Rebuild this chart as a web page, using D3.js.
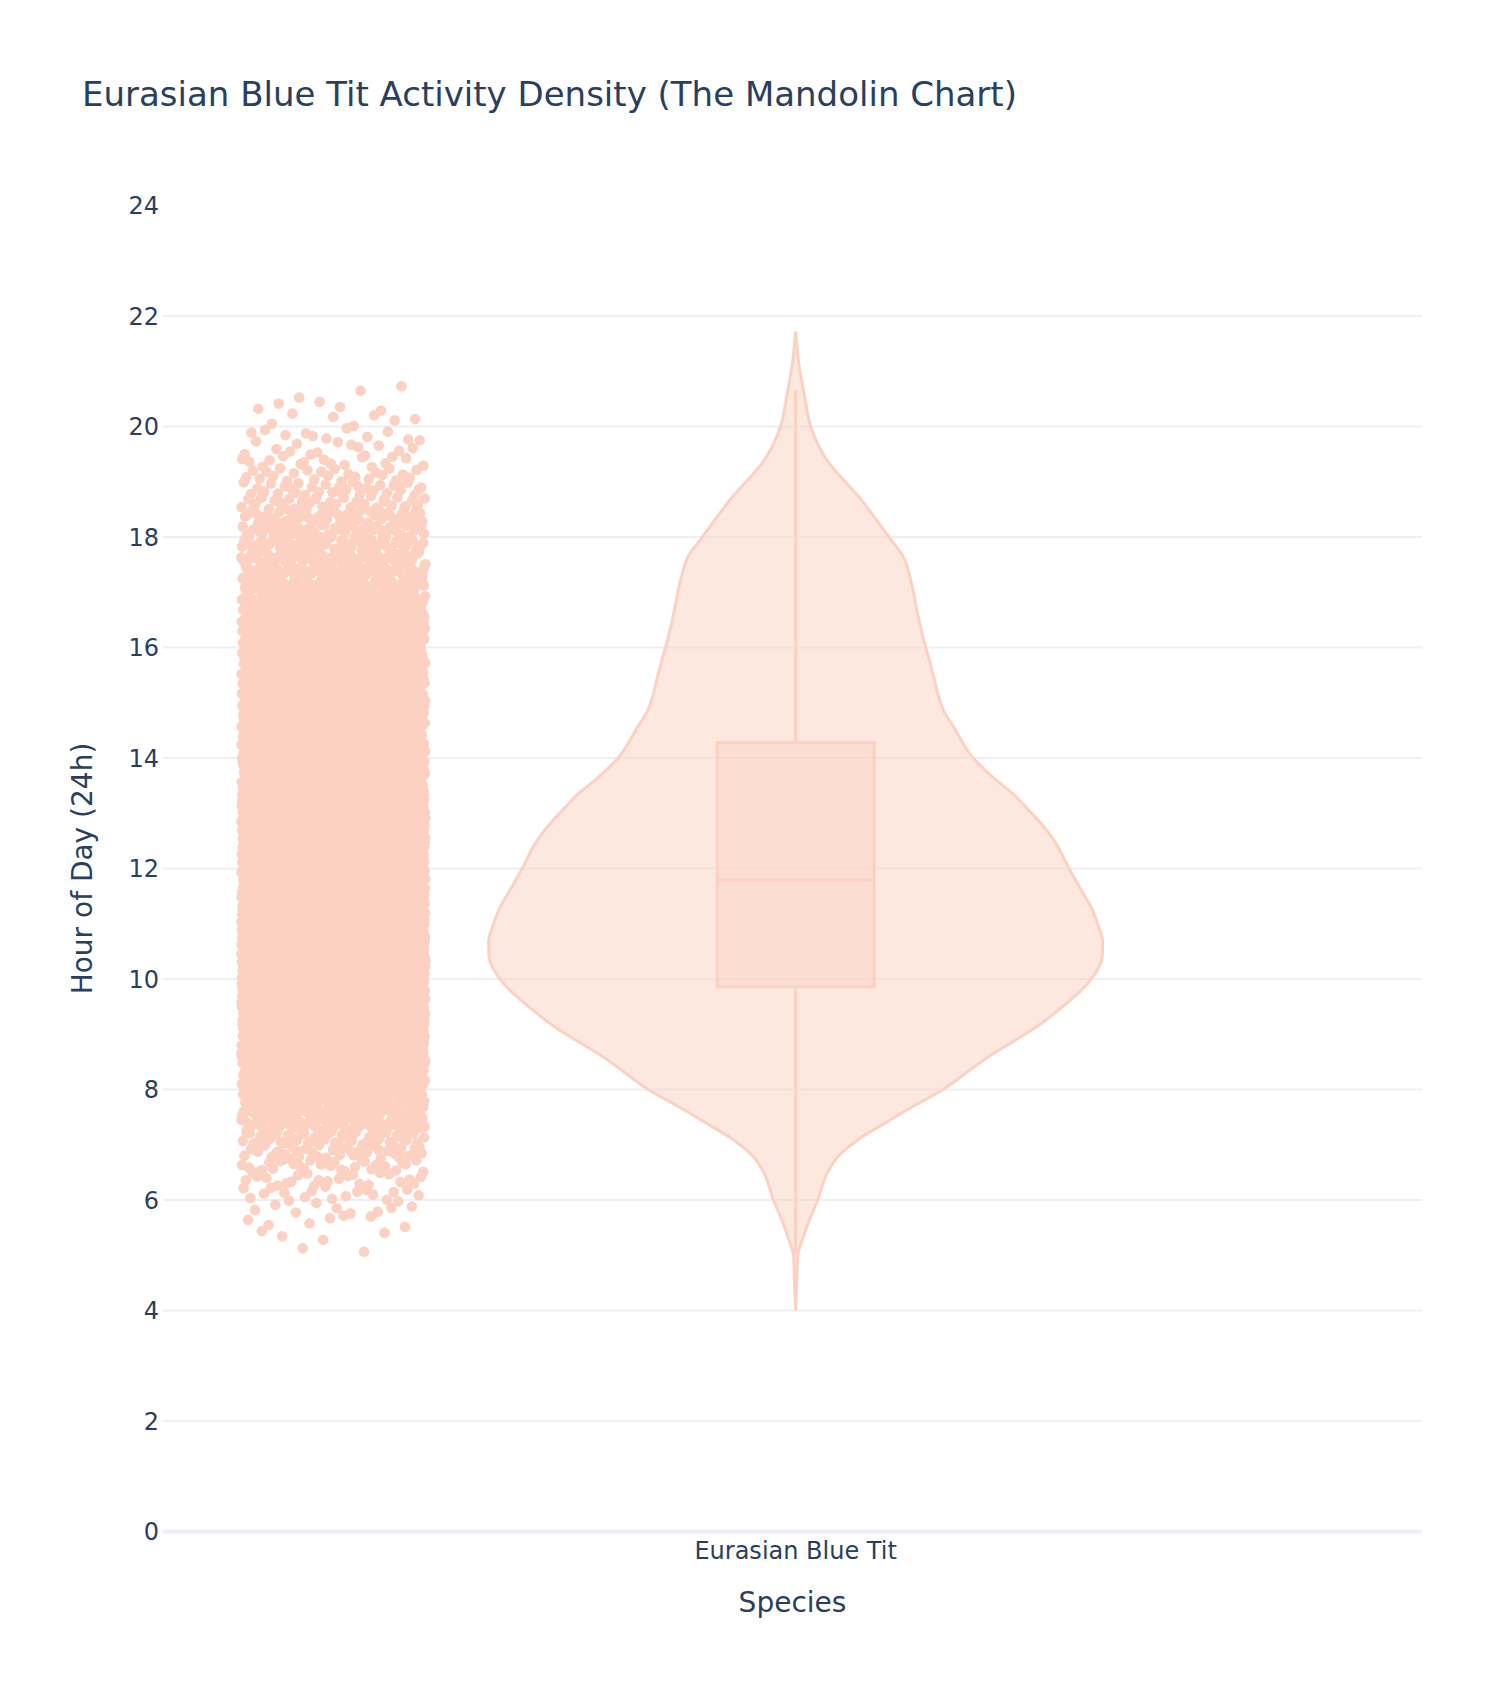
<!DOCTYPE html>
<html>
<head>
<meta charset="utf-8">
<script src="https://cdn.jsdelivr.net/npm/d3@7"></script>
<style>
    body { margin: 0; background: #fff; }
    text { font-family: "DejaVu Sans", verdana, arial, sans-serif; fill: #2a3f5f; }
</style>
</head>
<body>
<div id="chart"></div>
<script>
// category + axis ticks
const species = ['Eurasian Blue Tit'];
const yTicks = [0, 2, 4, 6, 8, 10, 12, 14, 16, 18, 20, 22, 24];

// violin outline: hour -> relative density
const violinHours = [4.0, 4.4, 5.0, 5.3, 5.6, 6.0, 6.5, 6.8, 7.1, 7.4, 7.7, 8.0, 8.3, 8.6, 8.9, 9.2, 9.5, 9.8,
    10.05, 10.4, 10.7, 10.95, 11.25, 11.55, 12.0, 12.45, 12.75, 13.05, 13.35, 13.65, 14.0, 14.55, 14.85,
    15.15, 15.45, 15.75, 16.0, 16.6, 17.2, 17.65, 18.0, 18.45, 18.75, 19.05, 19.35, 19.65, 20.0, 20.55, 21.15, 21.72];
const violinDensity = [0, 0.003, 0.007, 0.023, 0.042, 0.072, 0.104, 0.140, 0.205, 0.293, 0.384, 0.479, 0.554, 0.629,
    0.717, 0.800, 0.868, 0.930, 0.968, 0.997, 0.998, 0.985, 0.965, 0.935, 0.889, 0.847, 0.808, 0.759, 0.707,
    0.642, 0.577, 0.515, 0.482, 0.463, 0.450, 0.436, 0.423, 0.397, 0.375, 0.349, 0.303, 0.244, 0.202,
    0.153, 0.107, 0.075, 0.049, 0.029, 0.010, 0];

// box summary (hours)
const boxStats = {min: 5.04, q1: 9.86, median: 11.79, q3: 14.28, max: 20.66};

// observations per quarter-hour bin, counted roughly from the strip
const binStart = 5.0;
const binSize = 0.25;
const binCounts = [2, 4, 7, 11, 17, 23, 30, 40,
    52, 68, 86, 104, 120, 135, 150, 168,
    183, 198, 213, 225, 234, 240, 240, 237,
    232, 225, 219, 211, 205, 199, 192, 183,
    172, 160, 147, 135, 126, 119, 113, 110,
    111, 110, 108, 105, 102, 99, 96, 93,
    90, 84, 78, 69, 57, 48, 40, 32,
    24, 18, 13, 10, 7, 5, 3];

const traceColor = 'rgb(252,209,193)';

class ViolinChart {

    constructor(_config) {
        this.config = {
            parentElement: _config.parentElement,
            containerWidth: _config.width,
            containerHeight: _config.height
        };
        this.margin = _config.margin;
        this.initVis();
    }

    initVis() {
        let vis = this;
        vis.width = vis.config.containerWidth - vis.margin.left - vis.margin.right;
        vis.height = vis.config.containerHeight - vis.margin.top - vis.margin.bottom;

        vis.yScale = d3.scaleLinear().domain([0, 24]).range([vis.height, 0]);
        // category axis, slot 0 is the species
        vis.xScale = d3.scaleLinear().domain([-0.505, 0.5]).range([0, vis.width]);
        vis.wScale = d3.scaleLinear().domain([0, d3.max(violinDensity)]).range([0, 0.245]);

        vis.svg = d3.select(vis.config.parentElement)
            .append('svg')
            .attr('width', vis.config.containerWidth)
            .attr('height', vis.config.containerHeight);
        vis.svg.append('rect')
            .attr('width', vis.config.containerWidth)
            .attr('height', vis.config.containerHeight)
            .attr('fill', '#fff');

        vis.chart = vis.svg.append('g')
            .attr('transform', `translate(${vis.margin.left}, ${vis.margin.top})`);

        vis.svg.append('text')
            .attr('x', 82)
            .attr('y', 106)
            .attr('font-size', '34px')
            .text('Eurasian Blue Tit Activity Density (The Mandolin Chart)');
    }

    renderVis() {
        let vis = this;

        // grid
        vis.chart.append('g').selectAll('line')
            .data(yTicks.filter(d => d > 0 && d < 24))
            .join('line')
            .attr('x1', 0).attr('x2', vis.width)
            .attr('y1', d => vis.yScale(d)).attr('y2', d => vis.yScale(d))
            .attr('stroke', '#EBF0F8')
            .attr('stroke-width', 2);
        vis.chart.append('line')
            .attr('x1', 0).attr('x2', vis.width)
            .attr('y1', vis.yScale(0)).attr('y2', vis.yScale(0))
            .attr('stroke', '#EBF0F8')
            .attr('stroke-width', 4);

        // y tick labels
        vis.chart.append('g').selectAll('text')
            .data(yTicks)
            .join('text')
            .attr('x', -4)
            .attr('y', d => vis.yScale(d))
            .attr('dy', '0.36em')
            .attr('text-anchor', 'end')
            .attr('font-size', '24px')
            .text(d => d);

        // x tick label
        vis.chart.append('text')
            .attr('x', vis.xScale(0))
            .attr('y', vis.height + 27)
            .attr('text-anchor', 'middle')
            .attr('font-size', '24px')
            .text(species[0]);

        // axis titles
        vis.svg.append('text')
            .attr('x', vis.margin.left + vis.width / 2)
            .attr('y', 1612)
            .attr('text-anchor', 'middle')
            .attr('font-size', '28px')
            .text('Species');
        vis.svg.append('text')
            .attr('transform', `translate(92, ${vis.margin.top + vis.height / 2}) rotate(-90)`)
            .attr('text-anchor', 'middle')
            .attr('font-size', '28px')
            .text('Hour of Day (24h)');

        // violin body
        const violinData = violinHours.map((h, i) => ({hour: h, density: violinDensity[i]}));
        const area = d3.area()
            .y(d => vis.yScale(d.hour))
            .x0(d => vis.xScale(-vis.wScale(d.density)))
            .x1(d => vis.xScale(vis.wScale(d.density)))
            .curve(d3.curveMonotoneY);
        vis.chart.append('path')
            .datum(violinData)
            .attr('d', area)
            .attr('fill', traceColor)
            .attr('fill-opacity', 0.5)
            .attr('stroke', traceColor)
            .attr('stroke-width', 3);

        // whiskers
        const cx = vis.xScale(0);
        vis.chart.append('g').selectAll('line')
            .data([[boxStats.q3, boxStats.max], [boxStats.min, boxStats.q1]])
            .join('line')
            .attr('x1', cx).attr('x2', cx)
            .attr('y1', d => vis.yScale(d[0])).attr('y2', d => vis.yScale(d[1]))
            .attr('stroke', traceColor)
            .attr('stroke-width', 3);

        // inner box
        const boxHalf = 0.0627;
        vis.chart.append('rect')
            .attr('x', vis.xScale(-boxHalf))
            .attr('y', vis.yScale(boxStats.q3))
            .attr('width', vis.xScale(boxHalf) - vis.xScale(-boxHalf))
            .attr('height', vis.yScale(boxStats.q1) - vis.yScale(boxStats.q3))
            .attr('fill', traceColor)
            .attr('fill-opacity', 0.5)
            .attr('stroke', traceColor)
            .attr('stroke-width', 3);
        vis.chart.append('line')
            .attr('x1', vis.xScale(-boxHalf)).attr('x2', vis.xScale(boxHalf))
            .attr('y1', vis.yScale(boxStats.median)).attr('y2', vis.yScale(boxStats.median))
            .attr('stroke', traceColor)
            .attr('stroke-width', 3);

        // jittered points: spread each bin's observations (deterministic halton jitter)
        const halton = (i, b) => { let f = 1, r = 0; while (i > 0) { f /= b; r += f * (i % b); i = Math.floor(i / b); } return r; };
        const points = [];
        let k = 1;
        binCounts.forEach((n, bi) => {
            for (let j = 0; j < n; j++) {
                points.push({hour: binStart + bi * binSize + halton(k, 2) * binSize, jit: halton(k, 3) * 2 - 1});
                k++;
            }
        });
        const stripPos = -0.369, stripHalf = 0.0735;
        vis.chart.append('g').selectAll('circle')
            .data(points)
            .join('circle')
            .attr('cx', d => vis.xScale(stripPos + d.jit * stripHalf))
            .attr('cy', d => vis.yScale(d.hour))
            .attr('r', 5.3)
            .attr('fill', traceColor);
    }
}

const chart = new ViolinChart({
    parentElement: '#chart',
    width: 1512,
    height: 1696,
    margin: {top: 205.5, right: 90, bottom: 164.5, left: 163}
});
chart.renderVis();
</script>
</body>
</html>
